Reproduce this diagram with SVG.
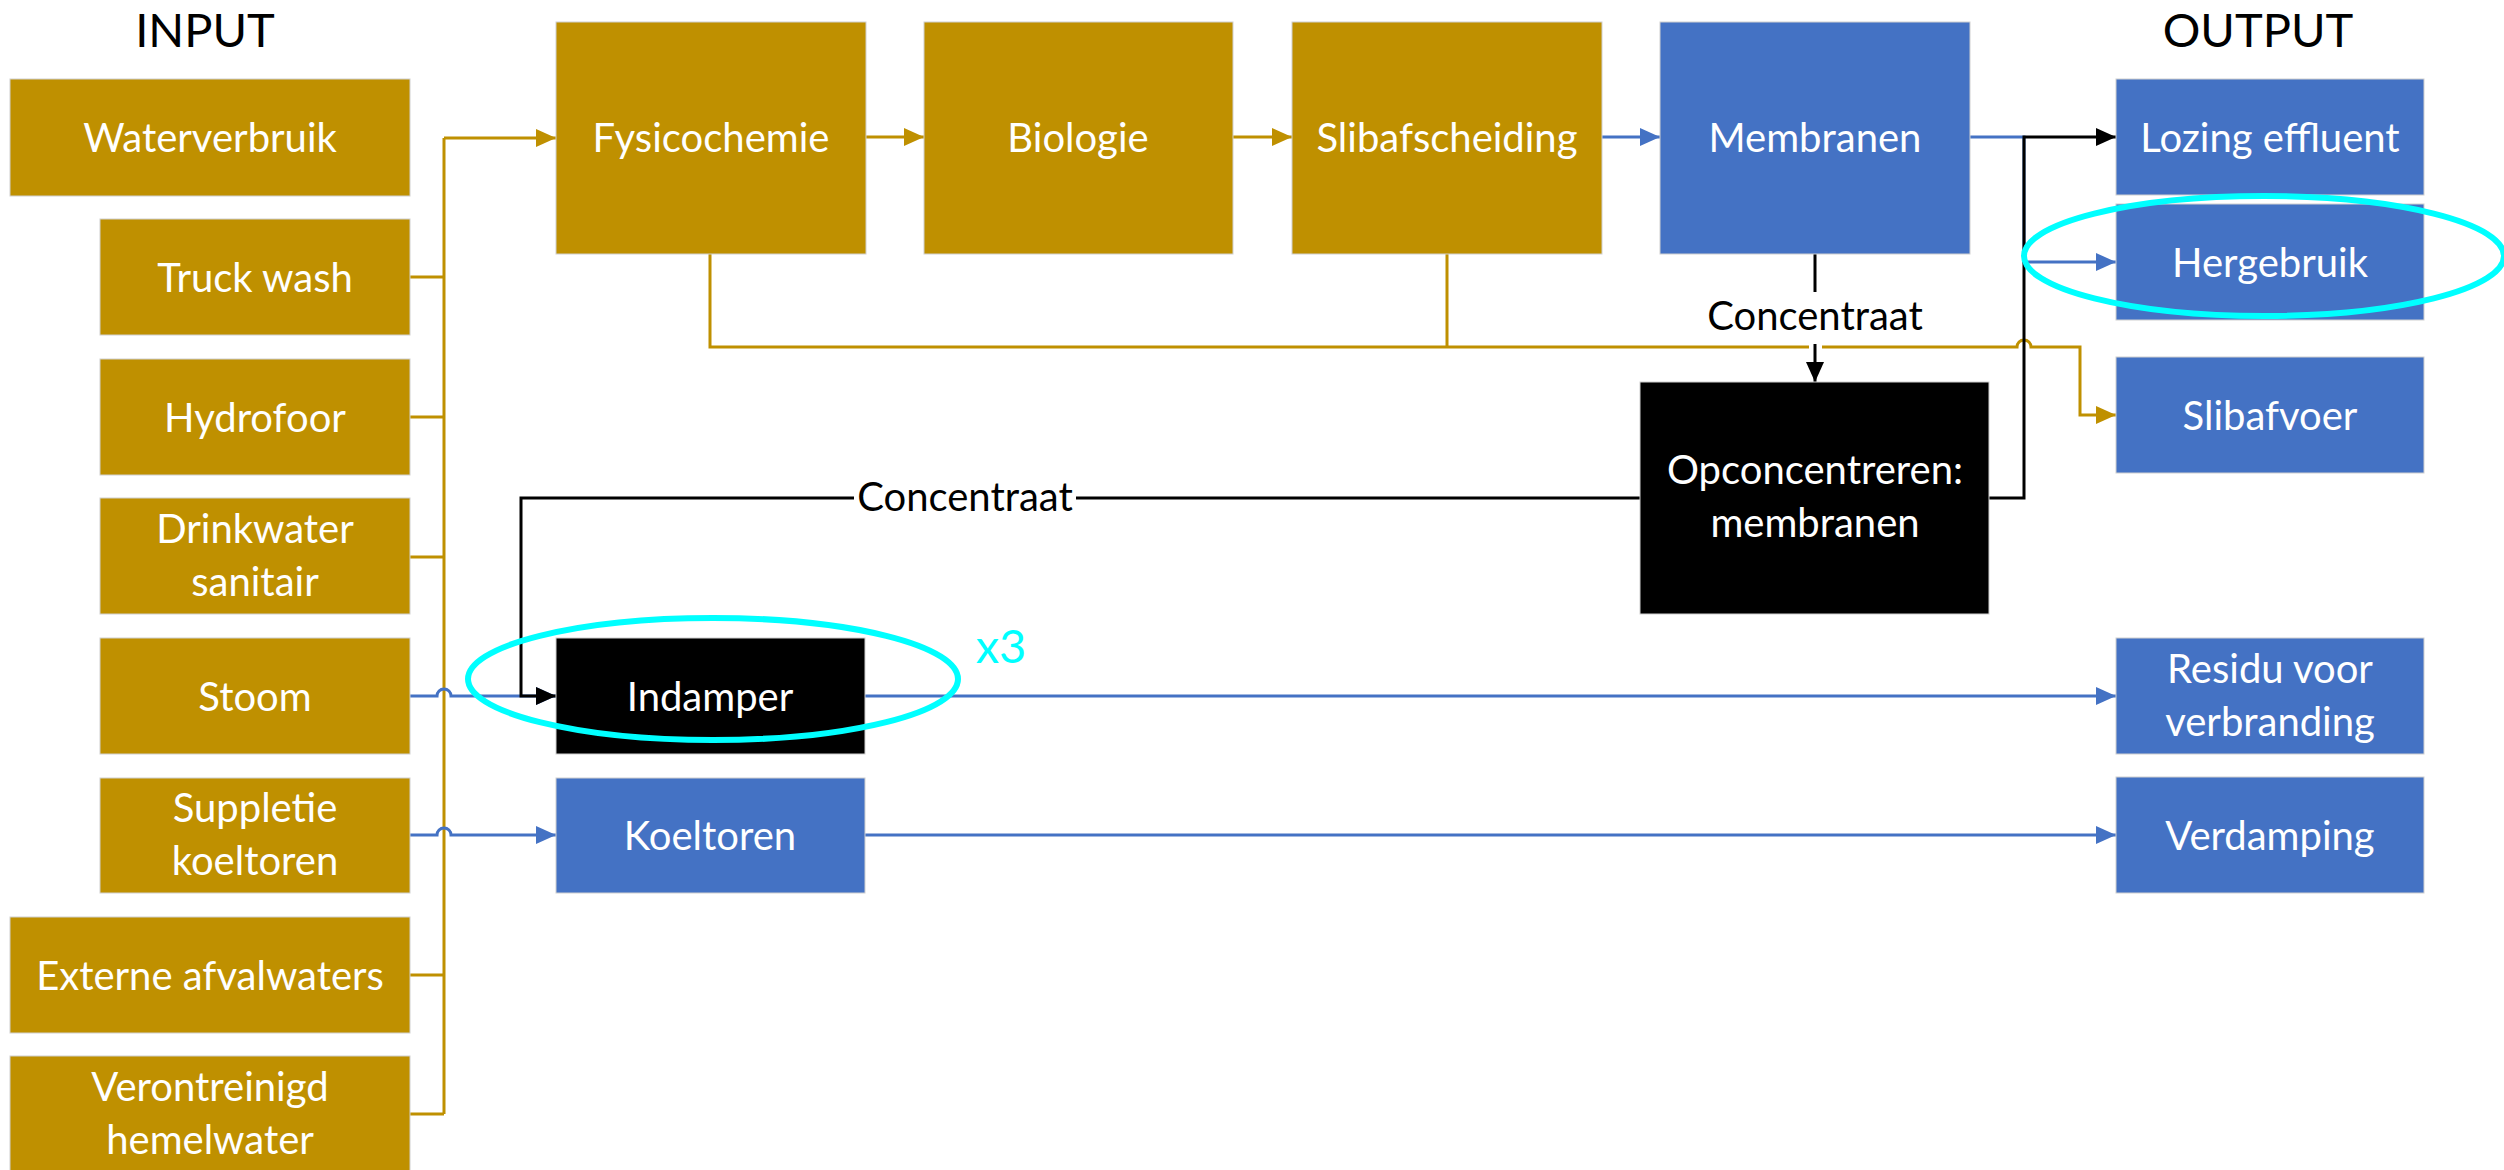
<svg xmlns="http://www.w3.org/2000/svg" width="2504" height="1170" viewBox="0 0 2504 1170">
<style>
text{font-family:Lato,"Liberation Sans",sans-serif;text-anchor:middle}
.lbl{font-size:40px;fill:#fff}
.title{font-size:47px;fill:#000}
.cl{font-size:40px;fill:#000}
.gold{fill:#BF9000;stroke:#d0d0d0;stroke-width:1}
.blue{fill:#4472C4;stroke:#d0d0d0;stroke-width:1}
.blk{fill:#000;stroke:#d0d0d0;stroke-width:1}
.cg{fill:none;stroke:#BF9000;stroke-width:3}
.cb{fill:none;stroke:#4472C4;stroke-width:3}
.ck{fill:none;stroke:#000;stroke-width:3}
.ring{fill:none;stroke:#00FFFF;stroke-width:6}
</style>
<defs>
<marker id="ag" markerUnits="userSpaceOnUse" markerWidth="20" markerHeight="18" refX="20" refY="9" orient="auto"><path d="M0,0L20,9L0,18z" fill="#BF9000"/></marker>
<marker id="ab" markerUnits="userSpaceOnUse" markerWidth="20" markerHeight="18" refX="20" refY="9" orient="auto"><path d="M0,0L20,9L0,18z" fill="#4472C4"/></marker>
<marker id="ak" markerUnits="userSpaceOnUse" markerWidth="20" markerHeight="18" refX="20" refY="9" orient="auto"><path d="M0,0L20,9L0,18z" fill="#000"/></marker>
</defs>
<rect width="2504" height="1170" fill="#fff"/>

<text class="title" x="205" y="47">INPUT</text>
<text class="title" x="2258" y="47">OUTPUT</text>

<g id="connectors">
<path class="cg" d="M444,138V1114M410,277H444M410,417H444M410,557H444M410,975H444M410,1114H444"/>
<path class="cg" d="M444,138H556" marker-end="url(#ag)"/>
<path class="cg" d="M866,137H924" marker-end="url(#ag)"/>
<path class="cg" d="M1233,137H1292" marker-end="url(#ag)"/>
<path class="cb" d="M1602,137H1660" marker-end="url(#ab)"/>
<path class="cb" d="M1970,137H2024V262H2116" marker-end="url(#ab)"/>
<path class="cg" d="M1447,254V347M710,254V347H1809M1822,347H2017a7,7 0 0 1 14,0H2080V415H2116" marker-end="url(#ag)"/>
<path class="cb" d="M410,696H437a7,7 0 0 1 14,0H556" marker-end="url(#ab)"/>
<path class="cb" d="M410,835H437a7,7 0 0 1 14,0H556" marker-end="url(#ab)"/>
<path class="cb" d="M865,696H2116" marker-end="url(#ab)"/>
<path class="cb" d="M865,835H2116" marker-end="url(#ab)"/>
<path class="ck" d="M1989,498H2024V137H2116" marker-end="url(#ak)"/>
<path class="ck" d="M1815,254V382" marker-end="url(#ak)"/>
<path class="ck" d="M1640,498H521V696H556" marker-end="url(#ak)"/>
<rect x="1702" y="292" width="226" height="52" fill="#fff"/>
<text class="cl" x="1815" y="330">Concentraat</text>
<rect x="854" y="474" width="222" height="48" fill="#fff"/>
<text class="cl" x="965" y="511">Concentraat</text>
</g>

<g id="in-waterverbruik"><rect class="gold" x="10" y="79" width="400" height="117"/><text class="lbl" x="210" y="152">Waterverbruik</text></g>
<g id="in-truckwash"><rect class="gold" x="100" y="219" width="310" height="116"/><text class="lbl" x="255" y="292">Truck wash</text></g>
<g id="in-hydrofoor"><rect class="gold" x="100" y="359" width="310" height="116"/><text class="lbl" x="255" y="432">Hydrofoor</text></g>
<g id="in-drinkwater"><rect class="gold" x="100" y="498" width="310" height="116"/><text class="lbl" x="255" y="543">Drinkwater</text><text class="lbl" x="255" y="596">sanitair</text></g>
<g id="in-stoom"><rect class="gold" x="100" y="638" width="310" height="116"/><text class="lbl" x="255" y="711">Stoom</text></g>
<g id="in-suppletie"><rect class="gold" x="100" y="778" width="310" height="115"/><text class="lbl" x="255" y="822">Suppletie</text><text class="lbl" x="255" y="875">koeltoren</text></g>
<g id="in-externe"><rect class="gold" x="10" y="917" width="400" height="116"/><text class="lbl" x="210" y="990">Externe afvalwaters</text></g>
<g id="in-verontreinigd"><rect class="gold" x="10" y="1056" width="400" height="116"/><text class="lbl" x="210" y="1101">Verontreinigd</text><text class="lbl" x="210" y="1154">hemelwater</text></g>

<g id="fysicochemie"><rect class="gold" x="556" y="22" width="310" height="232"/><text class="lbl" x="711" y="152">Fysicochemie</text></g>
<g id="biologie"><rect class="gold" x="924" y="22" width="309" height="232"/><text class="lbl" x="1078" y="152">Biologie</text></g>
<g id="slibafscheiding"><rect class="gold" x="1292" y="22" width="310" height="232"/><text class="lbl" x="1447" y="152">Slibafscheiding</text></g>
<g id="membranen"><rect class="blue" x="1660" y="22" width="310" height="232"/><text class="lbl" x="1815" y="152">Membranen</text></g>
<g id="opconcentreren"><rect class="blk" x="1640" y="382" width="349" height="232"/><text class="lbl" x="1815" y="484">Opconcentreren:</text><text class="lbl" x="1815" y="537">membranen</text></g>
<g id="indamper"><rect class="blk" x="556" y="638" width="309" height="116"/><text class="lbl" x="710" y="711">Indamper</text></g>
<g id="koeltoren"><rect class="blue" x="556" y="778" width="309" height="115"/><text class="lbl" x="710" y="850">Koeltoren</text></g>

<g id="out-lozing"><rect class="blue" x="2116" y="79" width="308" height="116"/><text class="lbl" x="2270" y="152">Lozing effluent</text></g>
<g id="out-hergebruik"><rect class="blue" x="2116" y="204" width="308" height="116"/><text class="lbl" x="2270" y="277">Hergebruik</text></g>
<g id="out-slibafvoer"><rect class="blue" x="2116" y="357" width="308" height="116"/><text class="lbl" x="2270" y="430">Slibafvoer</text></g>
<g id="out-residu"><rect class="blue" x="2116" y="638" width="308" height="116"/><text class="lbl" x="2270" y="683">Residu voor</text><text class="lbl" x="2270" y="736">verbranding</text></g>
<g id="out-verdamping"><rect class="blue" x="2116" y="777" width="308" height="116"/><text class="lbl" x="2270" y="850">Verdamping</text></g>

<g id="highlights">
<ellipse class="ring" cx="713" cy="679" rx="245" ry="61"/>
<ellipse class="ring" cx="2264" cy="256" rx="240" ry="60"/>
<text x="1001" y="663" style="font-size:47px;fill:#00FFFF">x3</text>
</g>
</svg>
